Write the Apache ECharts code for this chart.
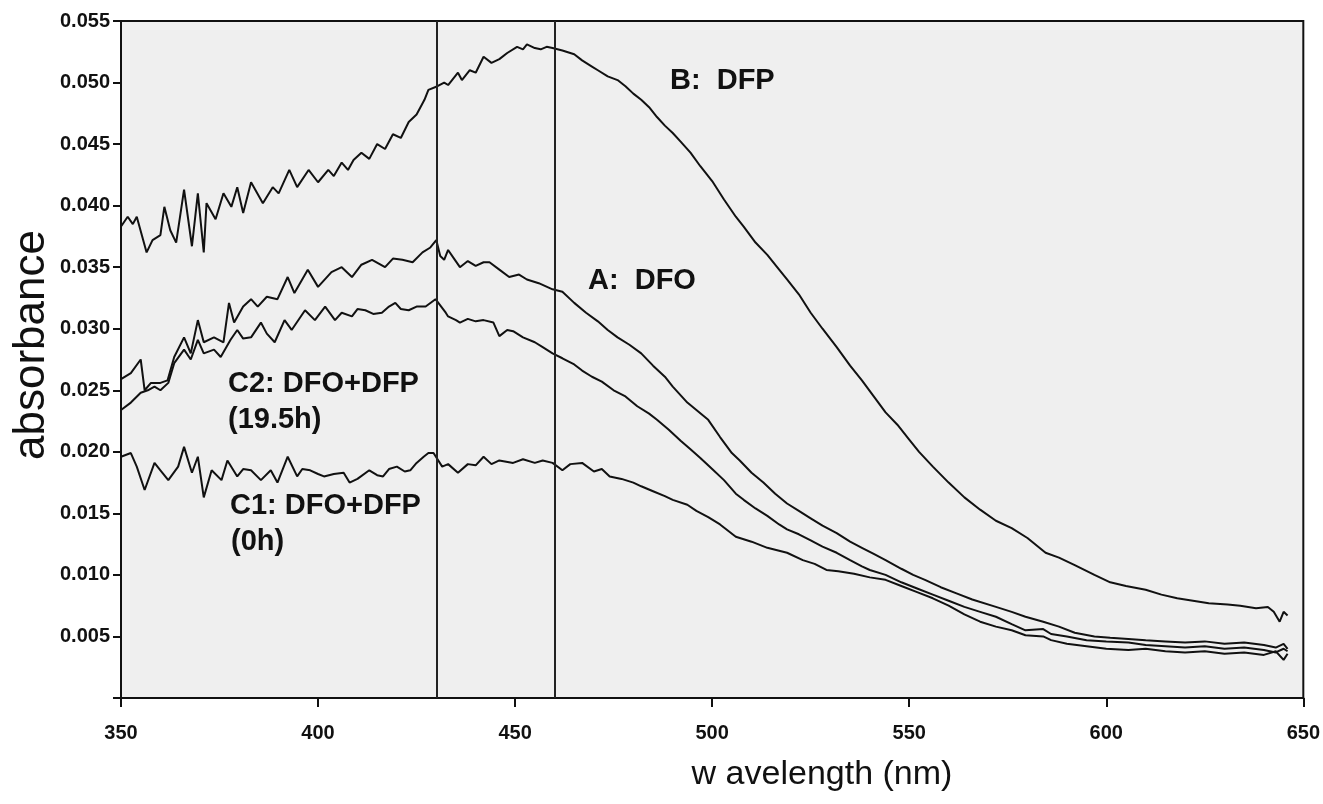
<!DOCTYPE html>
<html>
<head>
<meta charset="utf-8">
<script src="https://cdn.jsdelivr.net/npm/echarts@6/dist/echarts.min.js"></script>
<style>
html,body{margin:0;padding:0;background:#fff;}
#chart{width:1323px;height:804px;}
</style>
</head>
<body>
<div id="chart"></div>
<script>
// ---- Data ----
const xTicks = [350, 400, 450, 500, 550, 600, 650];
const yTicks = [0.005, 0.010, 0.015, 0.020, 0.025, 0.030, 0.035, 0.040, 0.045, 0.050, 0.055];
const markerWavelengths = [430, 460];

// B: DFP
const wlB = [350,351.7,353,354,356.5,358,360,361,362.5,364,366,368,369.5,371,371.7,374,376,378,379.5,381,383,386,388.5,390,392.7,394.7,397.6,400,402.6,404,406,407.6,409,411,413,415,417,419,421,423,425,427,428,430.3,432,433,435.5,436.5,438.5,440,442,444,446,448,450.5,452,453,455,456.5,458,459.5,462,465,467,469.5,471,473.5,476,478,480,482,484,486,488,490,492,494.5,497,500,503,506,508,511,514,517,519,522,525,528,531.6,535,538,541,544,547,550,552.5,556,560,564,568,572,576,580,584.6,588,592,597,601,605,610,614,618,622,626,630.8,634,638,641,642.5,644,645,646];
const absB = [0.0383,0.0391,0.0385,0.0391,0.0362,0.0372,0.0376,0.0399,0.0380,0.0370,0.0413,0.0367,0.0410,0.0362,0.0402,0.0389,0.0410,0.0399,0.0415,0.0394,0.0419,0.0402,0.0415,0.0410,0.0429,0.0415,0.0429,0.0419,0.0429,0.0424,0.0435,0.0429,0.0437,0.0443,0.0438,0.0450,0.0446,0.0458,0.0455,0.0468,0.0474,0.0486,0.0494,0.0497,0.0500,0.0498,0.0508,0.0502,0.0510,0.0508,0.0521,0.0516,0.0519,0.0524,0.0529,0.0527,0.0531,0.0528,0.0527,0.0529,0.0528,0.0526,0.0523,0.0518,0.0513,0.0510,0.0505,0.0502,0.0497,0.0491,0.0486,0.0480,0.0472,0.0465,0.0459,0.0452,0.0443,0.0432,0.0420,0.0405,0.0391,0.0383,0.0370,0.0360,0.0348,0.0340,0.0328,0.0313,0.0300,0.0285,0.0270,0.0258,0.0245,0.0232,0.0222,0.0210,0.0200,0.0188,0.0175,0.0163,0.0153,0.0144,0.0138,0.0130,0.0118,0.0114,0.0108,0.0100,0.0094,0.0091,0.0088,0.0084,0.0081,0.0079,0.0077,0.0076,0.0075,0.0073,0.0074,0.0070,0.0062,0.0070,0.0067];

// A: DFO
const wlA = [350,352.5,355,356,357.6,360,361.8,363.5,366,367.7,369.5,371,373.6,376,377.4,378.7,381,383,384.7,387,389.7,392.3,394,397.4,400,403.4,406,408.6,411,413.7,417,419,421.4,424,426.5,428.5,430,431,432,433,434.5,436,438,440,442,443.5,446,448.5,451,453,456,459.5,462,465,468,471,473.5,476,479,482,485,488,490,493.7,496,499,502,505,507,510,513,516,519,522,525,528,531.6,535,538,541,544,548,551,554,558,562,566,572,576,579.5,584,588,592,597,601,605.6,610,615,620,625,630,635,640,643,645,646];
const absA = [0.0259,0.0264,0.0275,0.0250,0.0256,0.0256,0.0258,0.0277,0.0293,0.0280,0.0307,0.0289,0.0293,0.0289,0.0321,0.0305,0.0318,0.0324,0.0318,0.0326,0.0324,0.0342,0.0329,0.0348,0.0334,0.0346,0.0350,0.0342,0.0352,0.0356,0.0350,0.0357,0.0356,0.0354,0.0362,0.0366,0.0372,0.0359,0.0356,0.0364,0.0357,0.0350,0.0355,0.0351,0.0354,0.0354,0.0348,0.0342,0.0344,0.0340,0.0337,0.0332,0.0330,0.0321,0.0313,0.0306,0.0299,0.0293,0.0287,0.0280,0.0270,0.0261,0.0253,0.0240,0.0234,0.0226,0.0212,0.0199,0.0193,0.0183,0.0175,0.0166,0.0158,0.0152,0.0146,0.0140,0.0134,0.0127,0.0122,0.0117,0.0112,0.0105,0.0100,0.0096,0.0090,0.0085,0.0080,0.0074,0.0070,0.0066,0.0062,0.0058,0.0053,0.0050,0.0049,0.0048,0.0047,0.0046,0.0045,0.0046,0.0044,0.0045,0.0043,0.0041,0.0044,0.0040];

// C2: DFO+DFP (19.5h)
const wlC2 = [350,352.5,355,356.8,358.5,360,362,363.5,366,367.7,369.5,371,373.6,375.3,377.8,379.5,381,383,385.5,387,389,391.5,393.3,396.7,399.2,401.8,404.3,406,408.6,410,412,414,416.2,418,419.6,421,423,425,427.3,429.8,432.4,433,435,436,438,440,442,444.5,446,448,449.5,452,455,457,459.5,462,465,467,469.5,472,475,478,481,484,486,489,492,494.5,497,500,503,506,508,511,514,517,519,522,525,528,531.6,535,538,540,544,548,552,556,560,564,568,572,576,579.5,584,586,590,595,600,605.6,610,615,620,625,630,635,640,643,645,646];
const absC2 = [0.0234,0.0240,0.0248,0.0250,0.0253,0.0250,0.0256,0.0272,0.0283,0.0275,0.0291,0.0280,0.0283,0.0277,0.0291,0.0299,0.0292,0.0293,0.0305,0.0296,0.0289,0.0307,0.0299,0.0315,0.0307,0.0318,0.0307,0.0313,0.0310,0.0316,0.0315,0.0312,0.0313,0.0318,0.0321,0.0316,0.0315,0.0318,0.0318,0.0324,0.0313,0.0310,0.0307,0.0305,0.0308,0.0306,0.0307,0.0305,0.0294,0.0299,0.0298,0.0293,0.0289,0.0285,0.0280,0.0276,0.0271,0.0266,0.0261,0.0257,0.0250,0.0245,0.0237,0.0231,0.0226,0.0218,0.0209,0.0202,0.0195,0.0186,0.0177,0.0166,0.0161,0.0154,0.0148,0.0141,0.0137,0.0133,0.0128,0.0123,0.0118,0.0112,0.0107,0.0104,0.0100,0.0094,0.0089,0.0084,0.0079,0.0074,0.0070,0.0066,0.0060,0.0055,0.0056,0.0052,0.0050,0.0047,0.0046,0.0045,0.0043,0.0042,0.0041,0.0042,0.0040,0.0041,0.0039,0.0037,0.0040,0.0038];

// C1: DFO+DFP (0h)
const wlC1 = [350,352.5,354,356,358.5,360,362,364.5,366,368,369.5,371,373,375.5,377,379.5,381,383,385.5,388,389.7,392.3,394.7,396,398,400,401.5,404,406.5,408,410,413,415,416.5,418,420,422,423.4,425,426.8,428,429.3,431.5,433,435.5,438,440,442,444,446,449.5,452,455,457,459.5,462,464,467,470,472,474,477,480,482,485,488,490,493.7,496,499,502,506,510,514,519,523,526,529,532,536,540,544,548,552,556,560,564,568,572,576,579.5,584,586,590,595,600,605.6,610,615,620,625,630,635,640,643,645,646];
const absC1 = [0.0196,0.0199,0.0188,0.0169,0.0191,0.0185,0.0177,0.0188,0.0204,0.0183,0.0196,0.0163,0.0185,0.0177,0.0193,0.0180,0.0186,0.0185,0.0177,0.0185,0.0175,0.0196,0.0180,0.0186,0.0185,0.0182,0.0180,0.0182,0.0183,0.0175,0.0178,0.0185,0.0181,0.0180,0.0186,0.0188,0.0184,0.0185,0.0191,0.0196,0.0199,0.0199,0.0188,0.0190,0.0183,0.0190,0.0189,0.0196,0.0190,0.0193,0.0191,0.0194,0.0191,0.0193,0.0191,0.0185,0.0190,0.0191,0.0184,0.0186,0.0180,0.0178,0.0175,0.0172,0.0168,0.0164,0.0161,0.0157,0.0152,0.0147,0.0141,0.0131,0.0127,0.0122,0.0118,0.0112,0.0109,0.0104,0.0103,0.0101,0.0098,0.0096,0.0091,0.0086,0.0081,0.0075,0.0068,0.0062,0.0058,0.0055,0.0051,0.0050,0.0047,0.0044,0.0042,0.0040,0.0039,0.0040,0.0038,0.0037,0.0038,0.0036,0.0037,0.0035,0.0038,0.0031,0.0036];

const seriesNames = ['B: DFP', 'A: DFO', 'C2: DFO+DFP (19.5h)', 'C1: DFO+DFP (0h)'];
const annotations = ['B:  DFP', 'A:  DFO', 'C2: DFO+DFP', '(19.5h)', 'C1: DFO+DFP', '(0h)'];
const xAxisTitle = 'w avelength (nm)';
const yAxisTitle = 'absorbance';

// ---- Chart ----
const pairs = (xs, ys) => xs.map((x, i) => [x, ys[i]]);
const FONT = '"Liberation Sans", Arial, Helvetica, sans-serif';
const lineStyle = { color: '#111', width: 2 };

function mkSeries(name, xs, ys, extra) {
  return Object.assign({
    name, type: 'line', data: pairs(xs, ys),
    showSymbol: false, symbol: 'none', lineStyle, itemStyle: { color: '#111' },
    silent: true
  }, extra || {});
}

const chart = echarts.init(document.getElementById('chart'), null, { renderer: 'canvas' });
const annStyle = { fontFamily: FONT, fontSize: 29, fontWeight: 'bold', fill: '#111' };
const annPos = [[670, 81], [588, 281], [228, 384], [228, 420], [230, 506], [231, 542]];

chart.setOption({
  animation: false,
  backgroundColor: '#ffffff',
  grid: {
    left: 121, right: 12, top: 21, bottom: 106,
    show: true, backgroundColor: '#efefef', borderColor: '#111', borderWidth: 2
  },
  xAxis: {
    type: 'value', min: 350, max: 650, interval: 50,
    axisLine: { show: true, lineStyle: { color: '#111', width: 2 } },
    axisTick: { show: true, inside: false, length: 9, lineStyle: { color: '#111', width: 2 } },
    axisLabel: { color: '#111', fontFamily: FONT, fontSize: 20, fontWeight: 'bold', margin: 25,
      formatter: v => xTicks.includes(v) ? String(v) : '' },
    splitLine: { show: false }
  },
  yAxis: {
    type: 'value', min: 0, max: 0.055, interval: 0.005,
    axisLine: { show: true, lineStyle: { color: '#111', width: 2 } },
    axisTick: { show: true, inside: false, length: 8, lineStyle: { color: '#111', width: 2 } },
    axisLabel: { color: '#111', fontFamily: FONT, fontSize: 20, fontWeight: 'bold', margin: 11,
      formatter: v => {
        const t = yTicks.find(y => Math.abs(y - v) < 1e-9);
        return t === undefined ? '' : t.toFixed(3);
      } },
    splitLine: { show: false }
  },
  series: [
    mkSeries(seriesNames[0], wlB, absB, {
      markLine: {
        silent: true, symbol: ['none', 'none'], label: { show: false },
        lineStyle: { color: '#222', width: 2, type: 'solid' },
        data: markerWavelengths.map(w => ({ xAxis: w }))
      }
    }),
    mkSeries(seriesNames[1], wlA, absA),
    mkSeries(seriesNames[2], wlC2, absC2),
    mkSeries(seriesNames[3], wlC1, absC1)
  ],
  graphic: [
    { type: 'text', x: 32, y: 345, rotation: Math.PI / 2,
      style: { text: yAxisTitle, fontFamily: FONT, fontSize: 44, fill: '#111', align: 'center', verticalAlign: 'middle' } },
    { type: 'text', x: 822, y: 775,
      style: { text: xAxisTitle, fontFamily: FONT, fontSize: 34, fill: '#111', align: 'center', verticalAlign: 'middle' } }
  ].concat(annotations.map((t, i) => ({
    type: 'text', x: annPos[i][0], y: annPos[i][1],
    style: Object.assign({ text: t, align: 'left', verticalAlign: 'middle' }, annStyle)
  })))
});
</script>
</body>
</html>
